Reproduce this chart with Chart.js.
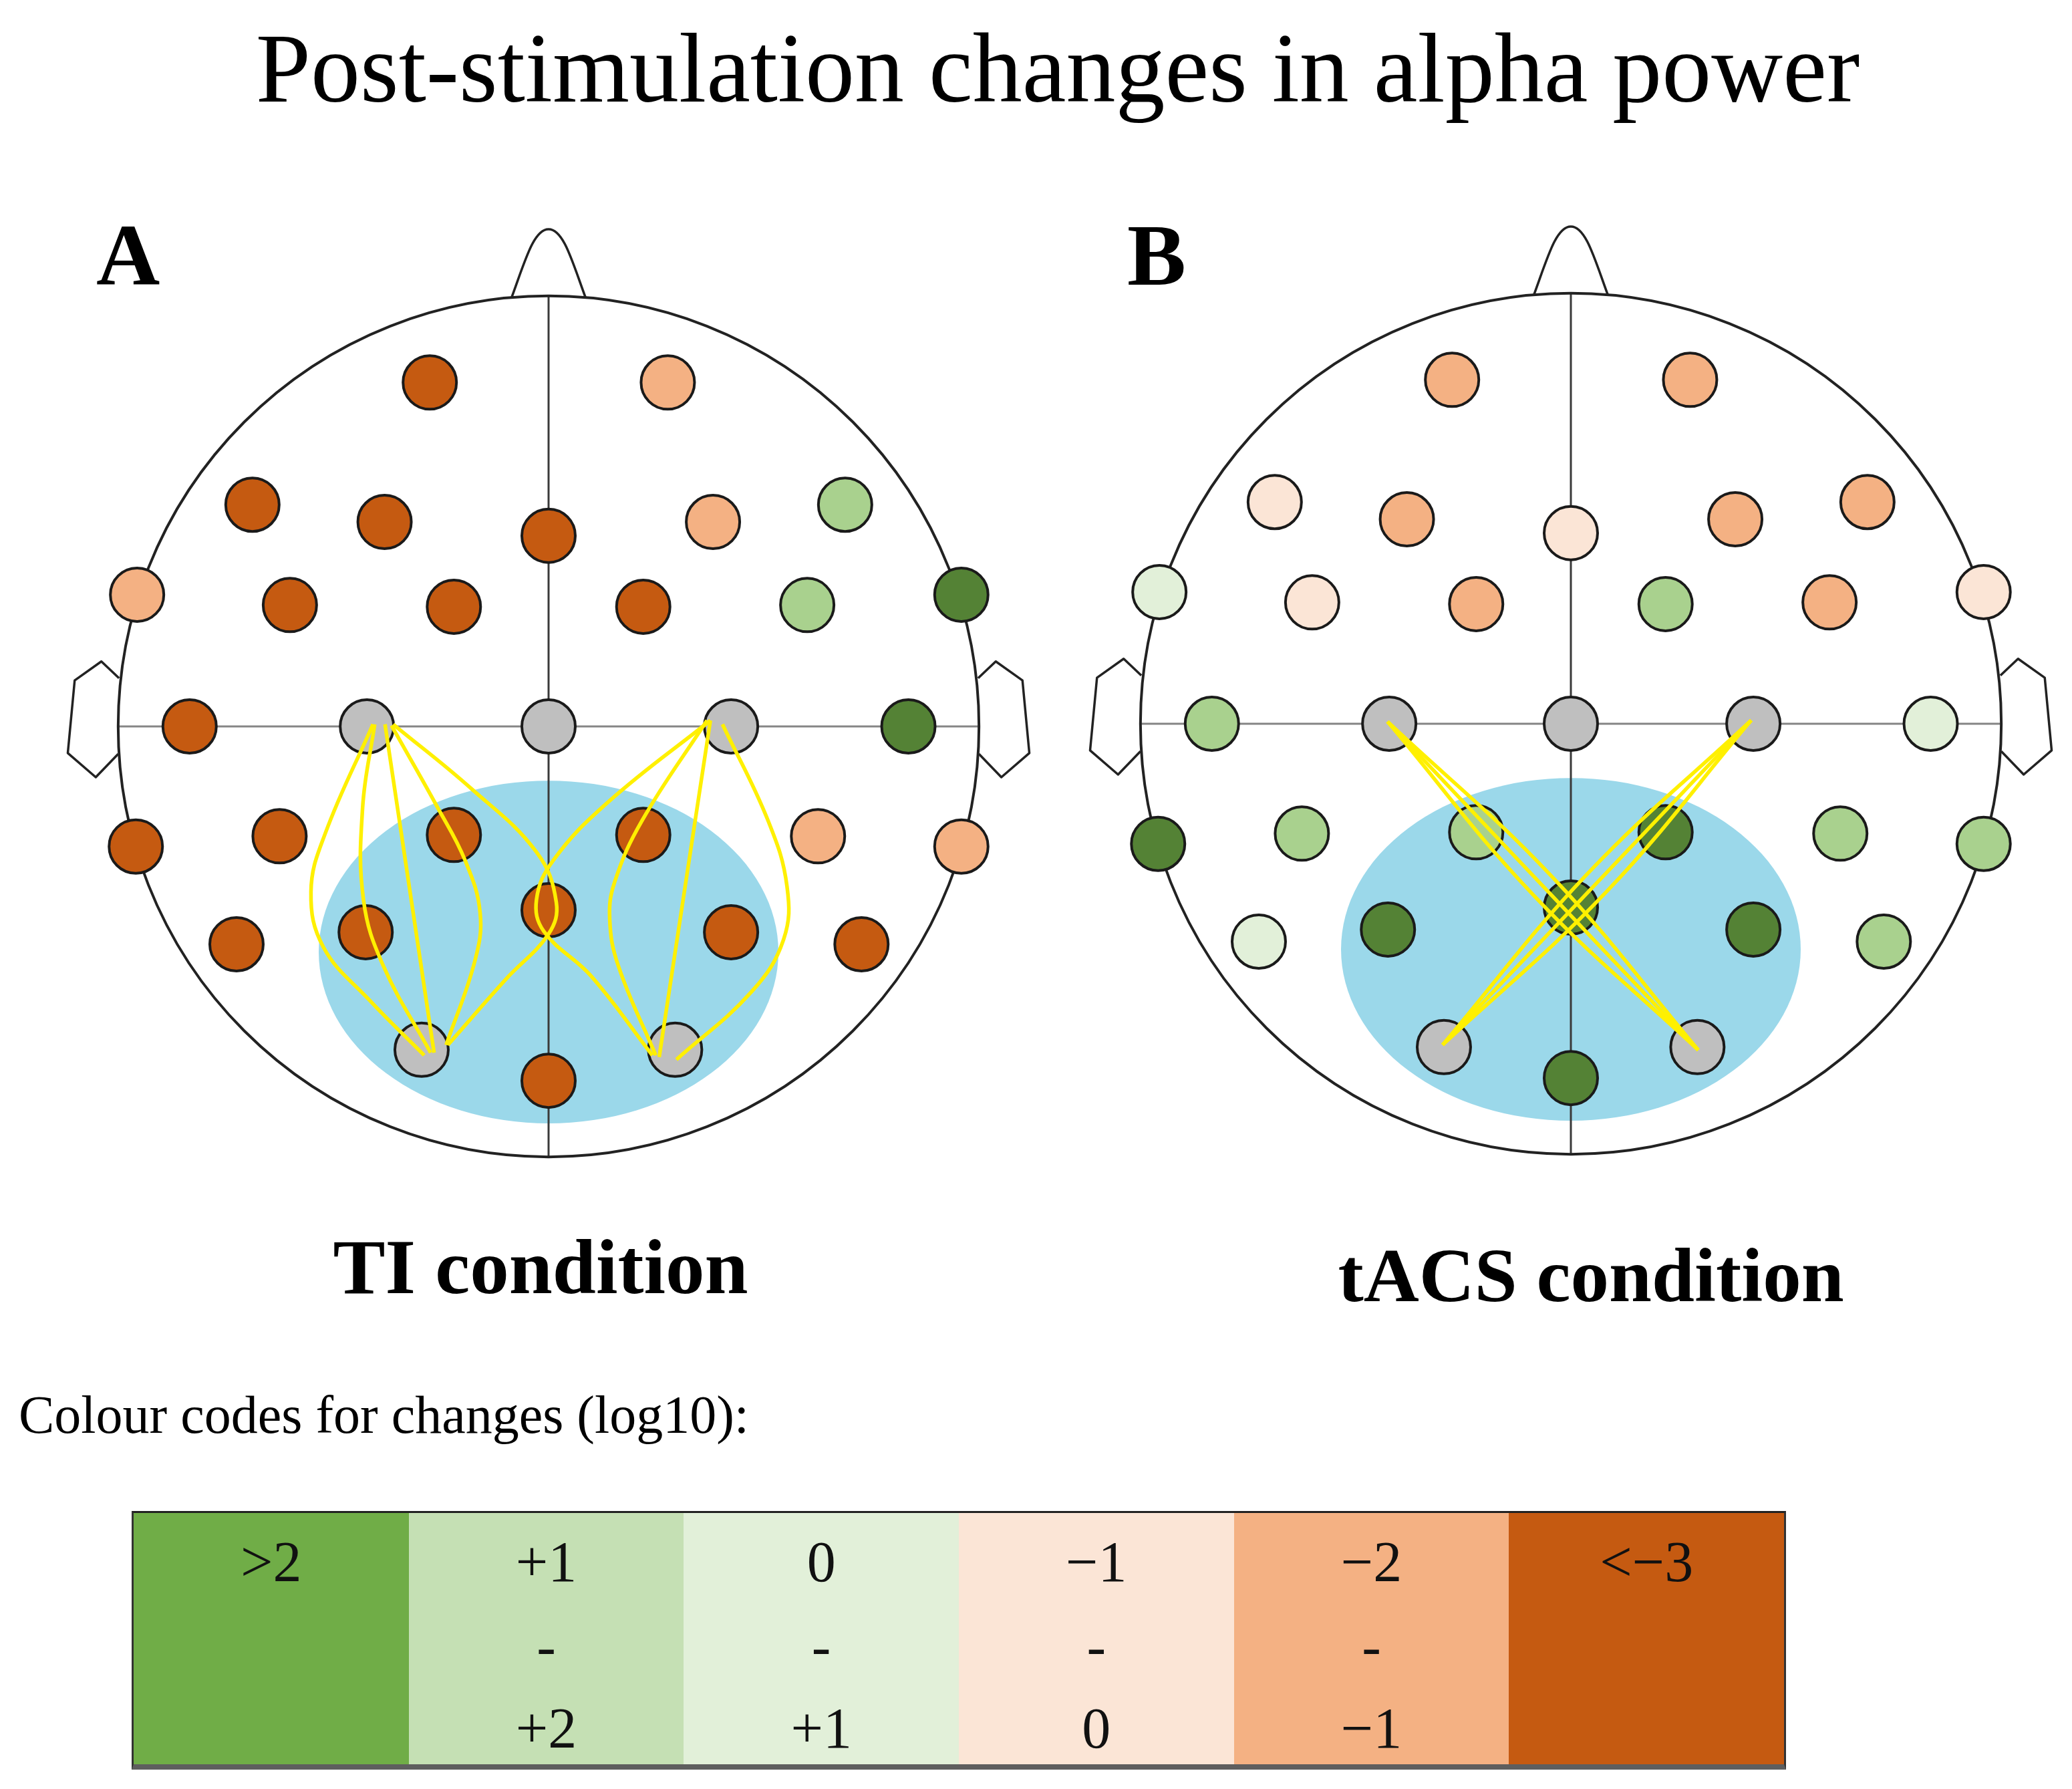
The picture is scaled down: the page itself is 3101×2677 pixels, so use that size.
<!DOCTYPE html>
<html>
<head>
<meta charset="utf-8">
<script src="https://cdn.jsdelivr.net/npm/chart.js"></script>
<style>
body { margin: 0; background: #fff; overflow: hidden; }
#page { position: relative; width: 3101px; height: 2677px; overflow: hidden; font-family: "Liberation Serif", "Times New Roman", serif; color: #000; }
.txt { position: absolute; line-height: 1; white-space: nowrap; }
.bold { font-weight: bold; }
.holder { position: absolute; width: 1546px; height: 1546px; }
#legend { position: absolute; left: 197px; top: 2261px; width: 2470px; height: 376px;
          border-top: 3px solid #222; border-left: 3px solid #333; border-right: 3px solid #333;
          border-bottom: 8px solid #5e5e5e; display: flex; }
.cell { position: relative; flex: 1; height: 100%; }
.cell div { position: absolute; left: 0; right: 0; text-align: center; font-size: 86px; line-height: 1; color: #111; }
</style>
</head>
<body>
<div id="page">
  <div class="txt" style="left:1583px;top:28px;font-size:148px;transform:translateX(-50%)">Post-stimulation changes in alpha power</div>
  <div class="txt bold" style="left:144px;top:316px;font-size:132px">A</div>
  <div class="txt bold" style="left:1687px;top:316px;font-size:132px">B</div>
  <div class="holder" style="left:48px;top:314px"><canvas id="headA" width="1546" height="1546"></canvas></div>
  <div class="holder" style="left:1578px;top:310px"><canvas id="headB" width="1546" height="1546"></canvas></div>
  <div class="txt bold" style="left:809px;top:1837px;font-size:117px;transform:translateX(-50%)">TI condition</div>
  <div class="txt bold" style="left:2381px;top:1851px;font-size:115px;transform:translateX(-50%)">tACS condition</div>
  <div class="txt" style="left:28px;top:2077px;font-size:80px">Colour codes for changes (log10):</div>
  <div id="legend"></div>
</div>
<script>
// electrode layout (head radius = 1, nose up)
const electrodeNames = ["Fp1", "Fp2", "F7", "F3", "Fz", "F4", "F8",
    "FT9", "FC5", "FC1", "FC2", "FC6", "FT10",
    "T7", "C3", "Cz", "C4", "T8",
    "TP9", "CP5", "CP1", "CP2", "CP6", "TP10",
    "P7", "P3", "Pz", "P4", "P8", "O1", "O2", "Oz"];
const electrodeX = [-0.276, 0.277, -0.688, -0.381, 0, 0.382, 0.689,
    -0.956, -0.601, -0.220, 0.220, 0.601, 0.959,
    -0.834, -0.422, 0, 0.424, 0.836,
    -0.959, -0.625, -0.220, 0.220, 0.626, 0.959,
    -0.725, -0.425, 0, 0.424, 0.727, -0.295, 0.294, 0];
const electrodeY = [0.799, 0.799, 0.515, 0.475, 0.443, 0.475, 0.515,
    0.306, 0.282, 0.278, 0.278, 0.282, 0.306,
    0, 0, 0, 0, 0,
    -0.279, -0.255, -0.252, -0.252, -0.255, -0.279,
    -0.506, -0.478, -0.427, -0.478, -0.506, -0.751, -0.751, -0.823];

// change class per electrode: 3 = >2, 2 = +1..+2, 1 = 0..+1, -1 = -1..0, -2 = -2..-1, -3 = <-3, null = stimulation electrode
const tiLevels = [-3, -2, -3, -3, -3, -2, 2,
    -2, -3, -3, -3, 2, 3,
    -3, null, null, null, 3,
    -3, -3, -3, -3, -2, -2,
    -3, -3, -3, -3, -3, null, null, -3];
const tacsLevels = [-2, -2, -1, -2, -1, -2, -2,
    1, -1, -2, 2, -2, -1,
    2, null, null, null, 1,
    3, 2, 2, 3, 2, 2,
    1, 3, 3, 3, 2, null, null, 3];

// current paths between stimulation electrodes
const tiCurves = [
    [[-0.408, 0.005], [-0.519, -0.249], [-0.552, -0.384], [-0.523, -0.513], [-0.416, -0.636], [-0.289, -0.764]],
    [[-0.404, 0.005], [-0.432, -0.188], [-0.430, -0.403], [-0.384, -0.556], [-0.274, -0.758]],
    [[-0.380, 0.005], [-0.266, -0.758]],
    [[-0.365, 0.002], [-0.258, -0.188], [-0.194, -0.311], [-0.159, -0.433], [-0.171, -0.544], [-0.238, -0.740]],
    [[-0.361, 0.005], [-0.179, -0.145], [-0.028, -0.292], [0.018, -0.409], [0.000, -0.482], [-0.099, -0.587], [-0.234, -0.740]],
    [[0.376, 0.014], [0.138, -0.176], [0.011, -0.311], [-0.028, -0.402], [-0.011, -0.476], [0.099, -0.580], [0.241, -0.764]],
    [[0.368, 0.014], [0.217, -0.219], [0.154, -0.360], [0.142, -0.446], [0.162, -0.556], [0.249, -0.764]],
    [[0.376, 0.014], [0.257, -0.768]],
    [[0.404, 0.005], [0.510, -0.219], [0.554, -0.372], [0.546, -0.495], [0.471, -0.617], [0.297, -0.774]]
];
const tacsCurves = [
    [[-0.426, 0.005], [-0.043, -0.356], [0.296, -0.758]],
    [[-0.426, 0.005], [-0.065, -0.377], [0.296, -0.758]],
    [[-0.426, 0.005], [-0.087, -0.398], [0.296, -0.758]],
    [[0.419, 0.008], [0.083, -0.390], [-0.298, -0.746]],
    [[0.419, 0.008], [0.061, -0.369], [-0.298, -0.746]],
    [[0.419, 0.008], [0.039, -0.348], [-0.298, -0.746]]
];

// legend
const legendTop = [">2", "+1", "0", "\u22121", "\u22122", "<\u22123"];
const legendMid = ["", "-", "-", "-", "-", ""];
const legendBottom = ["", "+2", "+1", "0", "\u22121", ""];
const legendColors = ["#70AD47", "#C5E0B4", "#E2F0D9", "#FBE5D6", "#F4B183", "#C55A11"];

const levelColors = {"3": "#548235", "2": "#A9D18E", "1": "#E2F0D9", "-1": "#FBE5D6", "-2": "#F4B183", "-3": "#C55A11"};
const stimColor = "#BFBFBF";

const headPlugin = {
    id: "head",
    beforeDatasetsDraw(chart) {
        const {ctx, scales: {x, y}} = chart;
        const px = v => x.getPixelForValue(v);
        const py = v => y.getPixelForValue(v);
        const unit = px(1) - px(0);
        ctx.save();

        // stimulated region
        ctx.fillStyle = "#9BD8EA";
        ctx.beginPath();
        ctx.ellipse(px(0), py(-0.524), 0.534 * unit, 0.398 * unit, 0, 0, Math.PI * 2);
        ctx.fill();

        // cross lines
        ctx.lineWidth = 3;
        ctx.strokeStyle = "#858585";
        ctx.beginPath();
        ctx.moveTo(px(-1), py(0));
        ctx.lineTo(px(1), py(0));
        ctx.stroke();
        ctx.strokeStyle = "#3a3a3a";
        ctx.beginPath();
        ctx.moveTo(px(0), py(1));
        ctx.lineTo(px(0), py(-1));
        ctx.stroke();

        // head
        ctx.strokeStyle = "#222";
        ctx.lineWidth = 4;
        ctx.beginPath();
        ctx.arc(px(0), py(0), unit, 0, Math.PI * 2);
        ctx.stroke();

        // nose
        ctx.lineWidth = 3.5;
        ctx.beginPath();
        ctx.moveTo(px(-0.086), py(0.996));
        ctx.bezierCurveTo(px(-0.055), py(1.08), px(-0.035), py(1.155), px(0), py(1.155));
        ctx.bezierCurveTo(px(0.035), py(1.155), px(0.055), py(1.08), px(0.086), py(0.996));
        ctx.stroke();

        // ears
        const ear = [[-0.998, 0.112], [-1.039, 0.151], [-1.101, 0.107], [-1.117, -0.062], [-1.052, -0.118], [-1.000, -0.064]];
        ctx.lineWidth = 3.5;
        ctx.lineJoin = "round";
        [-1, 1].forEach(side => {
            ctx.beginPath();
            ear.forEach((p, i) => {
                const ex = px(p[0] * -side), ey = py(p[1]);
                if (i === 0) ctx.moveTo(ex, ey); else ctx.lineTo(ex, ey);
            });
            ctx.stroke();
        });
        ctx.restore();
    }
};

function makeHead(canvasId, levels, curves) {
    const datasets = curves.map(c => ({
        data: c.map(p => ({x: p[0], y: p[1]})),
        showLine: true,
        borderColor: "#FFF000",
        borderWidth: 5.5,
        pointRadius: 0,
        tension: 0.4,
        order: 0
    }));
    datasets.push({
        label: "electrodes",
        data: electrodeX.map((x, i) => ({x: x, y: electrodeY[i], name: electrodeNames[i]})),
        pointRadius: 40,
        pointBorderWidth: 4,
        pointBorderColor: "#1a1a1a",
        pointBackgroundColor: levels.map(l => l === null ? stimColor : levelColors[l]),
        order: 1
    });

    new Chart(document.getElementById(canvasId).getContext("2d"), {
        type: "scatter",
        data: {datasets: datasets},
        options: {
            responsive: false,
            devicePixelRatio: 1,
            animation: false,
            events: [],
            layout: {padding: 0, autoPadding: false},
            scales: {
                x: {type: "linear", min: -1.2, max: 1.2, display: false},
                y: {type: "linear", min: -1.2, max: 1.2, display: false}
            },
            plugins: {legend: {display: false}, tooltip: {enabled: false}}
        },
        plugins: [headPlugin]
    });
}

makeHead("headA", tiLevels, tiCurves);
makeHead("headB", tacsLevels, tacsCurves);

const legend = document.getElementById("legend");
legendColors.forEach((col, i) => {
    const cell = document.createElement("div");
    cell.className = "cell";
    cell.style.background = col;
    [[legendTop[i], 30], [legendMid[i], 156], [legendBottom[i], 279]].forEach(([t, top]) => {
        const d = document.createElement("div");
        d.textContent = t;
        d.style.top = top + "px";
        cell.appendChild(d);
    });
    legend.appendChild(cell);
});
</script>
</body>
</html>
